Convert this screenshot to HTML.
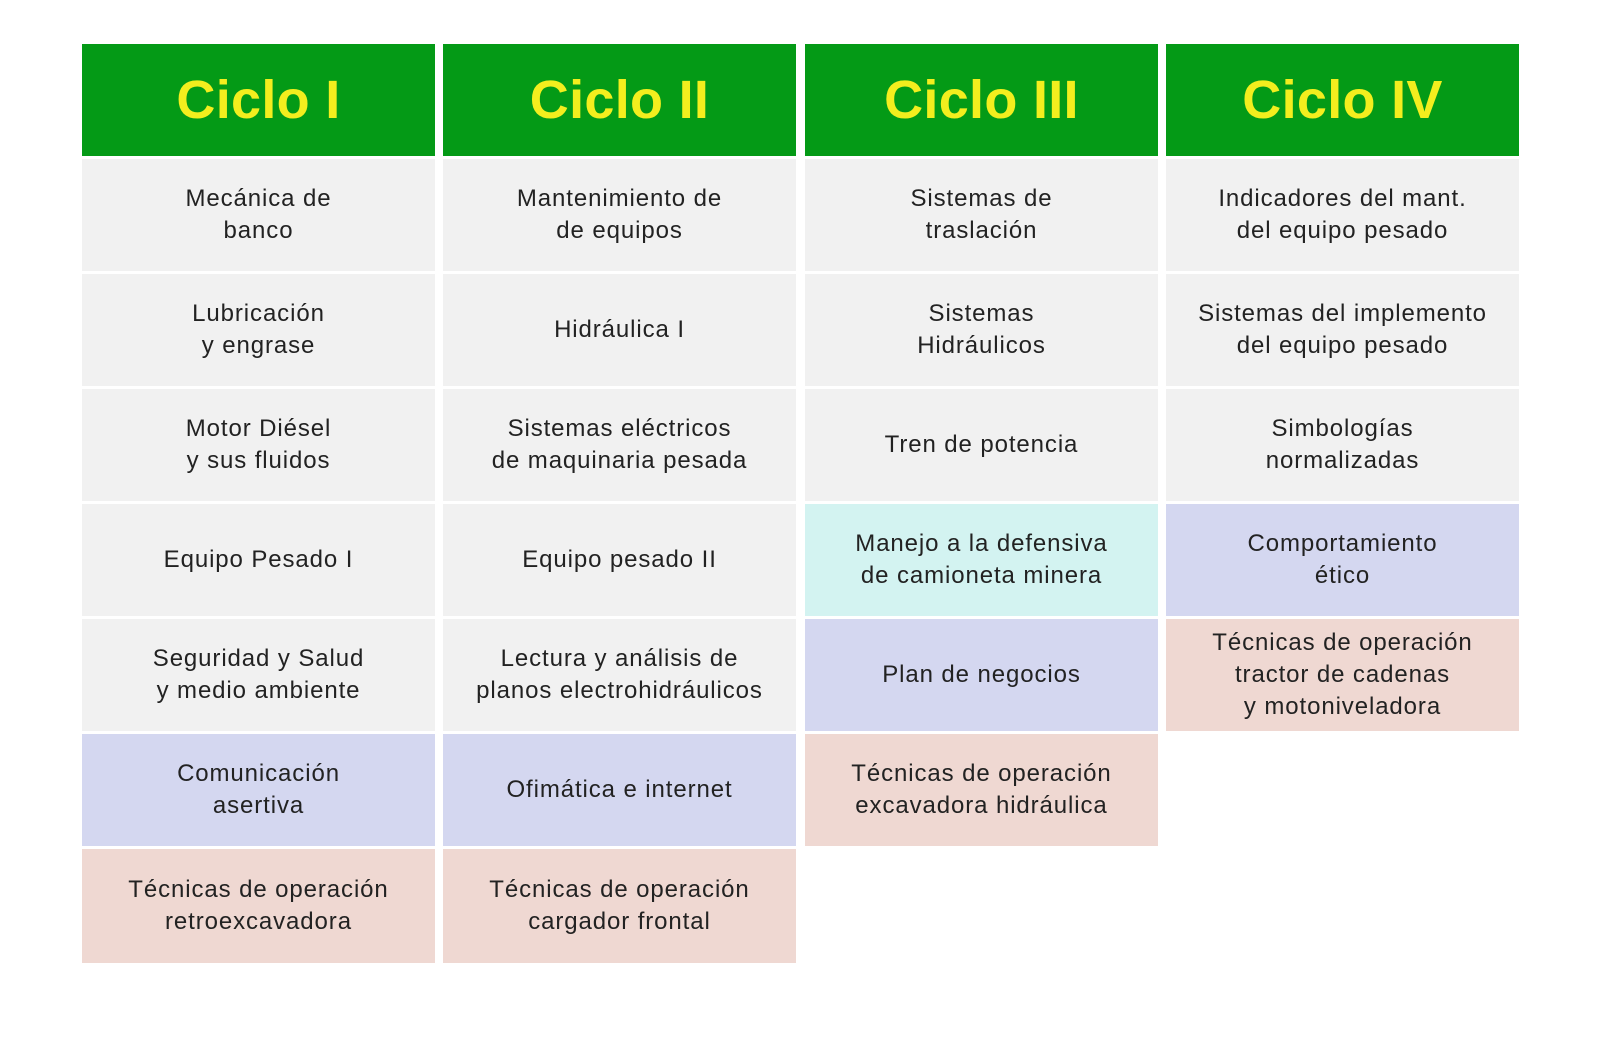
<!DOCTYPE html>
<html><head><meta charset="utf-8"><style>
body{margin:0;width:1600px;height:1042px;background:#fff;position:relative;font-family:"Liberation Sans",sans-serif;overflow:hidden}
.c{position:absolute;width:353px;display:flex;align-items:center;justify-content:center;text-align:center;color:#222;font-size:24px;line-height:32px;letter-spacing:0.9px}
.h{background:#049a16;color:#f3ee1e;font-weight:bold;font-size:54px;height:112px;top:44px;letter-spacing:0.3px}
.g{background:#f1f1f1}.b{background:#d4d7f0}.t{background:#d3f3f1}.p{background:#efd8d2}
</style></head><body>
<div class="c h" style="left:82px">Ciclo I</div>
<div class="c h" style="left:443px">Ciclo II</div>
<div class="c h" style="left:805px">Ciclo III</div>
<div class="c h" style="left:1166px">Ciclo IV</div>

<div class="c g" style="left:82px;top:159px;height:112px">Mecánica de<br>banco</div>
<div class="c g" style="left:82px;top:274px;height:112px">Lubricación<br>y engrase</div>
<div class="c g" style="left:82px;top:389px;height:112px">Motor Diésel<br>y sus fluidos</div>
<div class="c g" style="left:82px;top:504px;height:112px">Equipo Pesado I</div>
<div class="c g" style="left:82px;top:619px;height:112px">Seguridad y Salud<br>y medio ambiente</div>
<div class="c b" style="left:82px;top:734px;height:112px">Comunicación<br>asertiva</div>
<div class="c p" style="left:82px;top:849px;height:114px">Técnicas de operación<br>retroexcavadora</div>

<div class="c g" style="left:443px;top:159px;height:112px">Mantenimiento de<br>de equipos</div>
<div class="c g" style="left:443px;top:274px;height:112px">Hidráulica I</div>
<div class="c g" style="left:443px;top:389px;height:112px">Sistemas eléctricos<br>de maquinaria pesada</div>
<div class="c g" style="left:443px;top:504px;height:112px">Equipo pesado II</div>
<div class="c g" style="left:443px;top:619px;height:112px">Lectura y análisis de<br>planos electrohidráulicos</div>
<div class="c b" style="left:443px;top:734px;height:112px">Ofimática e internet</div>
<div class="c p" style="left:443px;top:849px;height:114px">Técnicas de operación<br>cargador frontal</div>

<div class="c g" style="left:805px;top:159px;height:112px">Sistemas de<br>traslación</div>
<div class="c g" style="left:805px;top:274px;height:112px">Sistemas<br>Hidráulicos</div>
<div class="c g" style="left:805px;top:389px;height:112px">Tren de potencia</div>
<div class="c t" style="left:805px;top:504px;height:112px">Manejo a la defensiva<br>de camioneta minera</div>
<div class="c b" style="left:805px;top:619px;height:112px">Plan de negocios</div>
<div class="c p" style="left:805px;top:734px;height:112px">Técnicas de operación<br>excavadora hidráulica</div>

<div class="c g" style="left:1166px;top:159px;height:112px">Indicadores del mant.<br>del equipo pesado</div>
<div class="c g" style="left:1166px;top:274px;height:112px">Sistemas del implemento<br>del equipo pesado</div>
<div class="c g" style="left:1166px;top:389px;height:112px">Simbologías<br>normalizadas</div>
<div class="c b" style="left:1166px;top:504px;height:112px">Comportamiento<br>ético</div>
<div class="c p" style="left:1166px;top:619px;height:112px">Técnicas de operación<br>tractor de cadenas<br>y motoniveladora</div>
</body></html>
